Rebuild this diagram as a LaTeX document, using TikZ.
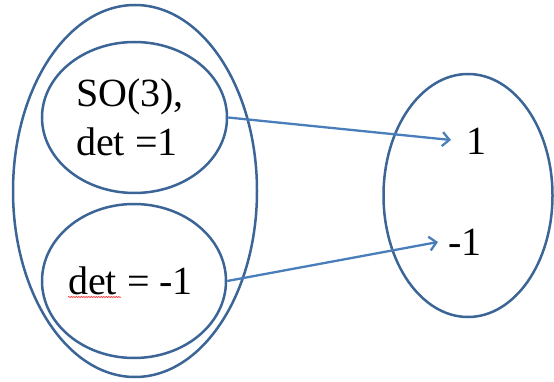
\documentclass[tikz,border=0pt]{standalone}
\usepackage{fontspec}
\setmainfont{Liberation Serif}
\newfontfamily\timesfont{Liberation Serif}
\usetikzlibrary{shapes.geometric,arrows.meta,decorations.pathmorphing}
\definecolor{ringblue}{HTML}{3B6596}
\definecolor{arrowblue}{HTML}{4A7EBB}
\tikzset{
  ring/.style={ellipse, draw=ringblue, line width=2.5pt, inner sep=0pt},
  lbl/.style={anchor=base west, inner sep=0pt, font=\timesfont\fontsize{40}{46}\selectfont},
  maparrow/.style={draw=arrowblue, line width=2.3pt, -{Straight Barb[length=7pt,width=14pt,line width=2.3pt]}}
}
\begin{document}
\begin{tikzpicture}[x=1pt,y=-1pt]
\useasboundingbox (0,0) rectangle (554,382);
\node[ring, minimum width=244pt, minimum height=372pt] (outer) at (135,191) {};
\node[ring, minimum width=185pt, minimum height=151pt] (upper) at (134.5,117.5) {};
\node[ring, minimum width=184pt, minimum height=154pt] (lower) at (134,281) {};
\node[ring, minimum width=169pt, minimum height=243pt] (target) at (468,195.5) {};
\node[lbl] (so) at (76,107) {SO(3),};
\node[lbl] (detp) at (76,156) {det =1};
\node[lbl] (detm) at (68,294) {det = -1};
\node[lbl] (one) at (466,155) {1};
\node[lbl] (mone) at (448,255) {-1};
\coordinate (tipone) at (451,140);
\coordinate (tipmone) at (438,242);
\draw[maparrow] (upper.east) -- (tipone);
\draw[maparrow] (lower.east) -- (tipmone);
\draw[red!80, line width=0.6pt, decorate, decoration={snake, amplitude=0.6pt, segment length=2.5pt}] (68,297) -- (121,297);
\end{tikzpicture}
\end{document}
